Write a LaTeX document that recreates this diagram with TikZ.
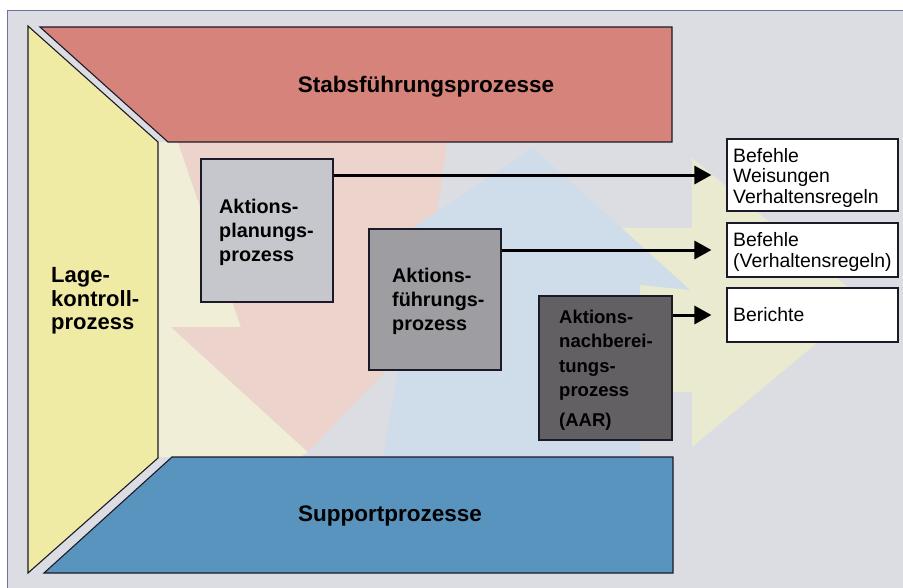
\documentclass[tikz,border=0pt]{standalone}
\usepackage{fontspec}
\setmainfont{Liberation Sans}
\usetikzlibrary{arrows.meta,calc}
\definecolor{bgcol}{RGB}{219,221,226}
\definecolor{framecol}{RGB}{110,112,160}
\definecolor{outline}{RGB}{28,26,40}
\definecolor{redcol}{RGB}{214,131,123}
\definecolor{yelcol}{RGB}{239,234,164}
\definecolor{bluecol}{RGB}{88,148,190}
\definecolor{g1col}{RGB}{197,199,205}
\definecolor{g2col}{RGB}{158,158,162}
\definecolor{g3col}{RGB}{98,96,99}
\definecolor{pinkbg}{RGB}{236,212,204}
\definecolor{bluebg}{RGB}{207,220,233}
\definecolor{creambg}{RGB}{240,238,214}
\definecolor{yelbg}{RGB}{234,234,208}
\begin{document}
\begin{tikzpicture}[x=1pt,y=-1pt,
  shp/.style={draw=outline, line width=1.1pt},
  pbox/.style={draw=outline, line width=1.1pt, inner sep=0pt},
  rbox/.style={draw=outline, line width=1.1pt, fill=white, inner sep=0pt, minimum width=171pt},
  btxt/.style={font=\fontsize{19.8}{24}\selectfont\bfseries, align=left, inner sep=0pt},
  bigtxt/.style={font=\fontsize{22.5}{24}\selectfont\bfseries, inner sep=0pt},
  rtxt/.style={font=\fontsize{19.4}{20.5}\selectfont, align=left, inner sep=0pt},
  arr/.style={draw=black, line width=3pt, -{Triangle[length=17pt,width=18pt]}}]
\useasboundingbox (0,0) rectangle (903,587);
\clip (0,0) rectangle (903,587);
% background
\fill[white] (0,0) rectangle (903,587);
\fill[bgcol] (7,10) rectangle (910,600);
\draw[framecol, line width=0.8pt] (7,600) -- (7,10) -- (910,10);
% faint background arrows
\fill[creambg] (158,142) -- (178,142) -- (241,327) -- (171,327) -- (308,452) -- (300,457) -- (158,457) -- cycle;
\fill[yelbg] (425,228) -- (692,228) -- (692,158) -- (866,302) -- (692,447) -- (692,392) -- (425,392) -- cycle;
\fill[pinkbg] (178,142) -- (447,142) -- (420,335) -- (308,452) -- (171,327) -- (241,327) -- cycle;
\fill[bluebg] (533,148) -- (690,290) -- (640,285) -- (640,457) -- (383,457) -- (420,245) -- (395,240) -- cycle;
% main shapes
\draw[shp, fill=yelcol] (28,26) -- (158,142) -- (158,458) -- (28,573) -- cycle;
\draw[shp, fill=redcol] (40,27) -- (672,27) -- (672,142) -- (168,142) -- cycle;
\draw[shp, fill=bluecol] (172,457) -- (673,457) -- (673,573) -- (44,573) -- cycle;
\node[bigtxt, anchor=base] (stab) at (426,92) {Stabsführungsprozesse};
\node[bigtxt, anchor=base] (supp) at (390,521.7) {Supportprozesse};
\node[btxt, font=\fontsize{22}{23.5}\selectfont\bfseries, anchor=west] (lage) at (51,301.2) {Lage-\\kontroll-\\prozess};
% process boxes
\node[pbox, fill=g1col, minimum width=132pt, minimum height=143pt] (b1) at (267,230.5) {};
\node[pbox, fill=g2col, minimum width=132pt, minimum height=141pt] (b2) at (435,299.5) {};
\node[pbox, fill=g3col, minimum width=133pt, minimum height=144pt] (b3) at (605.5,368) {};
\node[btxt, anchor=west] (t1) at (219,232) {Aktions-\\planungs-\\prozess};
\node[btxt, anchor=west] (t2) at (392,301) {Aktions-\\führungs-\\prozess};
\node[btxt, font=\fontsize{18.5}{24.5}\selectfont\bfseries, anchor=west] (t3) at (559,370.2) {Aktions-\\nachberei-\\tungs-\\prozess\\[5.5pt](AAR)};
% result boxes
\node[rbox, minimum height=72pt] (rA) at (812.5,175) {};
\node[rbox, minimum height=54pt] (rB) at (812.5,250) {};
\node[rbox, minimum height=54pt] (rC) at (812.5,315) {};
\node[rtxt, anchor=west] (tA) at (733,177.6) {Befehle\\Weisungen\\Verhaltensregeln};
\node[rtxt, anchor=west] (tB) at (733,252) {Befehle\\(Verhaltensregeln)};
\node[rtxt, anchor=base west] (tC) at (733,321.7) {Berichte};
% arrows
\draw[arr] (b1.east |- rA.west) -- ([xshift=-15pt]rA.west);
\draw[arr] (b2.east |- rB.west) -- ([xshift=-15pt]rB.west);
\draw[arr] (b3.east |- rC.west) -- ([xshift=-15pt]rC.west);
\end{tikzpicture}
\end{document}
